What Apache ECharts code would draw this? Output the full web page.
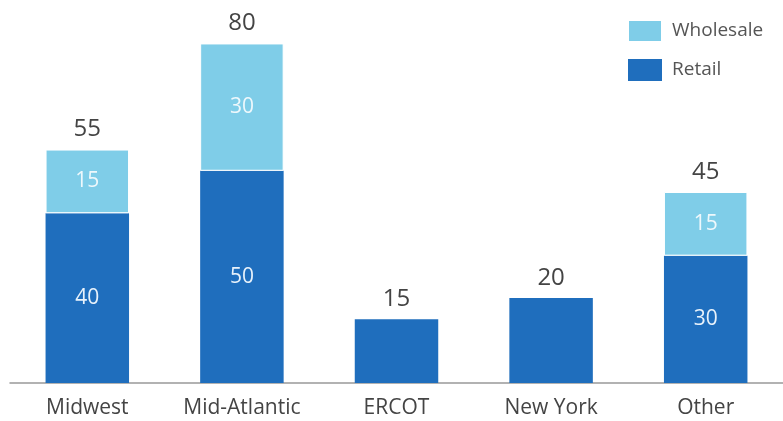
<!DOCTYPE html>
<html><head><meta charset="utf-8">
<script src="https://cdn.jsdelivr.net/npm/echarts@6/dist/echarts.min.js"></script>
<style>html,body{margin:0;padding:0;background:#fff}#c{width:783px;height:421px}</style>
</head><body><div id="c"></div>
<script>
const categories = ['Midwest', 'Mid-Atlantic', 'ERCOT', 'New York', 'Other'];
const retail = [40, 50, 15, 20, 30];
const wholesale = [15, 30, null, null, 15];
const totals = [55, 80, 15, 20, 45];

const chart = echarts.init(document.getElementById('c'));
const font = '"Open Sans", "Liberation Sans", sans-serif';
chart.setOption({
  animation: false,
  textStyle: { fontFamily: font },
  legend: {
    data: ['Wholesale', 'Retail'],
    orient: 'vertical',
    left: 622, top: 14,
    itemWidth: 34, itemHeight: 22, itemGap: 16,
    textStyle: { fontSize: 19, color: '#555', fontFamily: font, padding: [0, 0, 0, 5] },
    icon: 'rect'
  },
  grid: { left: 10, right: -1, top: 1, bottom: 38, containLabel: false },
  xAxis: {
    type: 'category',
    data: categories,
    axisLine: { lineStyle: { color: '#999', width: 1.5 } },
    axisTick: { show: false },
    axisLabel: { fontSize: 21, color: '#444', margin: 15, fontFamily: font }
  },
  yAxis: { type: 'value', min: 0, max: 90, show: false, splitLine: { show: false } },
  series: [
    {
      name: 'Retail', type: 'bar', stack: 's', barWidth: '54%',
      data: retail,
      itemStyle: { color: '#1f6ebd' },
      label: { show: true, position: 'inside', color: '#e8f2fb', fontSize: 21, fontFamily: font,
        formatter: p => (p.dataIndex === 2 || p.dataIndex === 3) ? '' : p.value }
    },
    {
      name: 'Wholesale', type: 'bar', stack: 's',
      data: wholesale,
      itemStyle: { color: '#7fcde8', borderColor: '#ffffff', borderWidth: 1 },
      label: { show: true, position: 'inside', color: '#eef8fc', fontSize: 21, fontFamily: font }
    },
    {
      name: 'Total', type: 'bar', stack: 's',
      data: totals.map(() => 0),
      itemStyle: { color: 'transparent' },
      label: { show: true, position: 'top', distance: 8, color: '#444', fontSize: 24, fontWeight: 500, fontFamily: font,
        formatter: p => totals[p.dataIndex] }
    }
  ]
});
</script></body></html>
